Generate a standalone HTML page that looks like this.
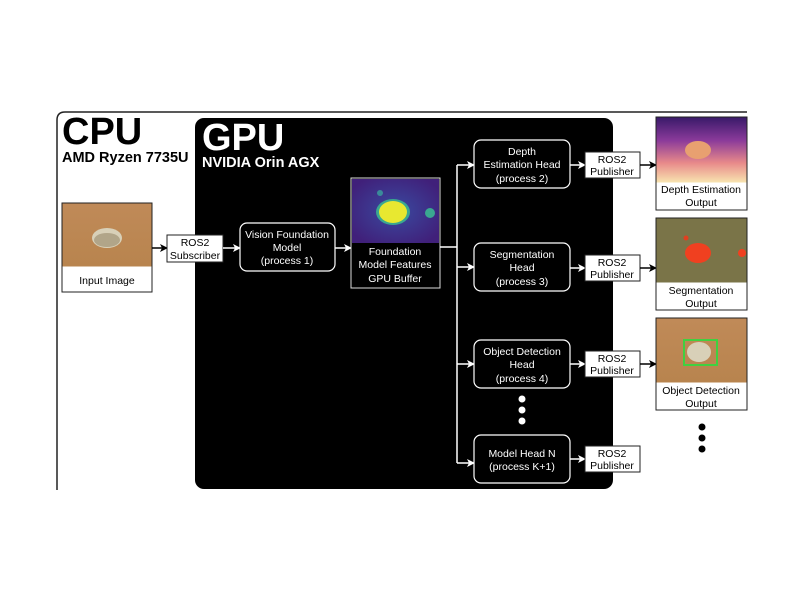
<!DOCTYPE html>
<html><head><meta charset="utf-8"><style>
html,body{margin:0;padding:0;background:#fff;width:800px;height:600px;overflow:hidden}
svg text{font-family:"Liberation Sans",Arial,sans-serif}
</style></head><body>
<svg width="800" height="600" viewBox="0 0 800 600" xmlns="http://www.w3.org/2000/svg">
<defs>
<marker id="aw" markerWidth="8" markerHeight="8" refX="7" refY="4" orient="auto" markerUnits="userSpaceOnUse"><path d="M0,0 L8,4 L0,8 L2,4 z" fill="#fff"/></marker>
<marker id="ab" markerWidth="8" markerHeight="8" refX="7" refY="4" orient="auto" markerUnits="userSpaceOnUse"><path d="M0,0 L8,4 L0,8 L2,4 z" fill="#000"/></marker>
<linearGradient id="depth" x1="0" y1="0" x2="0" y2="1"><stop offset="0" stop-color="#3a1a6a"/><stop offset="0.35" stop-color="#8a3a9a"/><stop offset="0.7" stop-color="#e88a8a"/><stop offset="1" stop-color="#f8e4b0"/></linearGradient>
<radialGradient id="feat" cx="0.5" cy="0.5" r="0.6"><stop offset="0" stop-color="#3a4aa0"/><stop offset="1" stop-color="#40207a"/></radialGradient>
<linearGradient id="sand" x1="0" y1="0" x2="0" y2="1"><stop offset="0" stop-color="#c08a58"/><stop offset="1" stop-color="#b8844e"/></linearGradient>
</defs>
<path d="M57,490 L57,120 Q57,112 65,112 L747,112" fill="none" stroke="#222" stroke-width="1.5"/>
<text x="62" y="144" font-size="38" font-weight="bold">CPU</text>
<text x="62" y="162" font-size="14.5" font-weight="bold">AMD Ryzen 7735U</text>
<rect x="195" y="118" width="418" height="371" rx="9" fill="#000"/>
<text x="202" y="150" font-size="38" font-weight="bold" fill="#fff">GPU</text>
<text x="202" y="167" font-size="14.5" font-weight="bold" fill="#fff">NVIDIA Orin AGX</text>
<rect x="62" y="203" width="90" height="89" fill="#fff" stroke="#222"/>
<rect x="62.5" y="203.5" width="89" height="63" fill="url(#sand)"/>
<ellipse cx="107" cy="238" rx="15" ry="10" fill="#d8d0b8"/>
<ellipse cx="107" cy="240" rx="13" ry="7" fill="#8a7a5a" opacity="0.5"/>
<text x="107" y="284" font-size="10.5" text-anchor="middle">Input Image</text>
<line x1="152" y1="248" x2="167" y2="248" stroke="#000" stroke-width="1.5" marker-end="url(#ab)"/>
<rect x="167" y="235" width="56" height="27" fill="#fff" stroke="#222"/>
<text x="195" y="246" font-size="10.5" text-anchor="middle">ROS2</text>
<text x="195" y="259" font-size="10.5" text-anchor="middle">Subscriber</text>
<line x1="223" y1="248" x2="240" y2="248" stroke="#fff" stroke-width="1.5" marker-end="url(#aw)"/>
<rect x="240" y="223" width="95" height="48" rx="7" fill="#000" stroke="#fff" stroke-width="1.2"/>
<g fill="#fff" font-size="10.5" text-anchor="middle"><text x="287" y="238">Vision Foundation</text><text x="287" y="251">Model</text><text x="287" y="264">(process 1)</text></g>
<line x1="335" y1="248" x2="351" y2="248" stroke="#fff" stroke-width="1.5" marker-end="url(#aw)"/>
<rect x="351" y="178" width="89" height="110" fill="#000" stroke="#ddd" stroke-width="1"/>
<rect x="352" y="179" width="87" height="64" fill="url(#feat)"/>
<ellipse cx="393" cy="212" rx="17" ry="13" fill="#3aa890"/>
<ellipse cx="393" cy="212" rx="14" ry="11" fill="#e8e830"/>
<circle cx="430" cy="213" r="5" fill="#3aa890"/>
<circle cx="380" cy="193" r="3" fill="#3a8a9a"/>
<g fill="#fff" font-size="10.5" text-anchor="middle"><text x="395" y="255">Foundation</text><text x="395" y="268">Model Features</text><text x="395" y="282">GPU Buffer</text></g>
<line x1="440" y1="247" x2="457" y2="247" stroke="#fff" stroke-width="1.5"/>
<line x1="457" y1="165" x2="457" y2="463" stroke="#fff" stroke-width="1.5"/>
<g stroke="#fff" stroke-width="1.5">
<line x1="457" y1="165" x2="474" y2="165" marker-end="url(#aw)"/>
<line x1="457" y1="267" x2="474" y2="267" marker-end="url(#aw)"/>
<line x1="457" y1="364" x2="474" y2="364" marker-end="url(#aw)"/>
<line x1="457" y1="463" x2="474" y2="463" marker-end="url(#aw)"/>
</g>
<g fill="#000" stroke="#fff" stroke-width="1.2">
<rect x="474" y="140" width="96" height="48" rx="7"/>
<rect x="474" y="243" width="96" height="48" rx="7"/>
<rect x="474" y="340" width="96" height="48" rx="7"/>
<rect x="474" y="435" width="96" height="48" rx="7"/>
</g>
<g fill="#fff" font-size="10.5" text-anchor="middle">
<text x="522" y="155">Depth</text><text x="522" y="168">Estimation Head</text><text x="522" y="182">(process 2)</text>
<text x="522" y="258">Segmentation</text><text x="522" y="271">Head</text><text x="522" y="285">(process 3)</text>
<text x="522" y="355">Object Detection</text><text x="522" y="368">Head</text><text x="522" y="382">(process 4)</text>
<text x="522" y="457">Model Head N</text><text x="522" y="470">(process K+1)</text>
</g>
<g fill="#fff"><circle cx="522" cy="399" r="3.5"/><circle cx="522" cy="410" r="3.5"/><circle cx="522" cy="421" r="3.5"/></g>
<g stroke="#fff" stroke-width="1.5">
<line x1="570" y1="165" x2="585" y2="165" marker-end="url(#aw)"/>
<line x1="570" y1="268" x2="585" y2="268" marker-end="url(#aw)"/>
<line x1="570" y1="364" x2="585" y2="364" marker-end="url(#aw)"/>
<line x1="570" y1="459" x2="585" y2="459" marker-end="url(#aw)"/>
</g>
<g fill="#fff" stroke="#222"><rect x="585" y="152" width="55" height="26"/><rect x="585" y="255" width="55" height="26"/><rect x="585" y="351" width="55" height="26"/><rect x="585" y="446" width="55" height="26"/></g>
<g font-size="10.5" text-anchor="middle">
<text x="612" y="163">ROS2</text><text x="612" y="175">Publisher</text>
<text x="612" y="266">ROS2</text><text x="612" y="278">Publisher</text>
<text x="612" y="362">ROS2</text><text x="612" y="374">Publisher</text>
<text x="612" y="457">ROS2</text><text x="612" y="469">Publisher</text>
</g>
<g stroke="#000" stroke-width="1.5">
<line x1="640" y1="165" x2="656" y2="165" marker-end="url(#ab)"/>
<line x1="640" y1="268" x2="656" y2="268" marker-end="url(#ab)"/>
<line x1="640" y1="364" x2="656" y2="364" marker-end="url(#ab)"/>
</g>
<rect x="656" y="117" width="91" height="93" fill="#fff" stroke="#222"/>
<rect x="656.5" y="117.5" width="90" height="65" fill="url(#depth)"/>
<ellipse cx="698" cy="150" rx="13" ry="9" fill="#e8a070"/>
<text x="701" y="193" font-size="10.5" text-anchor="middle">Depth Estimation</text><text x="701" y="206" font-size="10.5" text-anchor="middle">Output</text>
<rect x="656" y="218" width="91" height="92" fill="#fff" stroke="#222"/>
<rect x="656.5" y="218.5" width="90" height="64" fill="#7a7448"/>
<ellipse cx="698" cy="253" rx="13" ry="10" fill="#f04020"/>
<circle cx="742" cy="253" r="4" fill="#f04020"/><circle cx="686" cy="238" r="2.5" fill="#e04020"/>
<text x="701" y="294" font-size="10.5" text-anchor="middle">Segmentation</text><text x="701" y="307" font-size="10.5" text-anchor="middle">Output</text>
<rect x="656" y="318" width="91" height="92" fill="#fff" stroke="#222"/>
<rect x="656.5" y="318.5" width="90" height="64" fill="url(#sand)"/>
<ellipse cx="699" cy="352" rx="12" ry="10" fill="#d8d0b8"/>
<rect x="684" y="340" width="33" height="25" fill="none" stroke="#40d040" stroke-width="2"/>
<text x="701" y="394" font-size="10.5" text-anchor="middle">Object Detection</text><text x="701" y="407" font-size="10.5" text-anchor="middle">Output</text>
<g fill="#000"><circle cx="702" cy="427" r="3.5"/><circle cx="702" cy="438" r="3.5"/><circle cx="702" cy="449" r="3.5"/></g>
</svg>
</body></html>
